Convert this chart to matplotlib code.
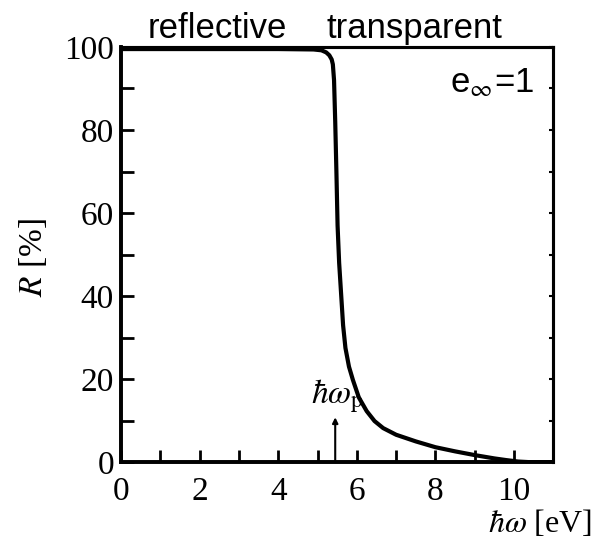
import numpy as np
import matplotlib.pyplot as plt
from matplotlib.ticker import MultipleLocator

plt.rcParams['mathtext.fontset'] = 'stix'

# reflectivity curve, photon energy in eV and R in percent
energy = [0.0, 2.0, 4.0, 4.9, 5.1, 5.22, 5.3, 5.36, 5.39, 5.42, 5.45, 5.48,
          5.51, 5.55, 5.6, 5.65, 5.71, 5.8, 5.9, 6.05, 6.25, 6.45, 6.67,
          7.0, 7.5, 8.0, 8.5, 9.0, 9.5, 9.8, 10.1, 10.4, 11.0]
refl = [99.5, 99.5, 99.5, 99.4, 99.2, 98.7, 98.0, 97.0, 95.8, 92.0, 82.0, 70.0,
        57.0, 48.0, 40.5, 33.0, 27.5, 23.0, 19.8, 15.6, 12.3, 9.9, 8.2,
        6.6, 5.0, 3.6, 2.6, 1.7, 0.9, 0.5, 0.15, 0.0, 0.0]

x_ticks = [0, 2, 4, 6, 8, 10]
y_ticks = [0, 20, 40, 60, 80, 100]
plasma_energy = 5.45
plasma_arrow_top = 10.8

fig = plt.figure(figsize=(5.95, 5.45), dpi=100)
ax = fig.add_axes([0.2034, 0.152, 0.7266, 0.7618])

ax.plot(energy, refl, color='black', lw=3.0, solid_capstyle='round',
        solid_joinstyle='round')

ax.set_xlim(0, 11)
ax.set_ylim(0, 100)
ax.set_xticks(x_ticks)
ax.set_yticks(y_ticks)
ax.xaxis.set_minor_locator(MultipleLocator(1))
ax.yaxis.set_minor_locator(MultipleLocator(10))

serif = dict(family='Liberation Serif', size=24)
ax.set_xticklabels([str(v) for v in x_ticks], fontdict=serif)
ax.set_yticklabels([str(v) for v in y_ticks], fontdict=serif)

ax.tick_params(which='both', direction='in', width=2, color='black')
ax.tick_params(axis='x', which='both', length=9, pad=10, top=False)
ax.tick_params(axis='y', which='both', left=True, right=False, length=9, pad=5)

# short nicks on the right spine
ax_r = ax.twinx()
ax_r.set_ylim(ax.get_ylim())
ax_r.yaxis.set_major_locator(MultipleLocator(10))
ax_r.tick_params(axis='y', direction='in', length=3, width=1.5, labelright=False)

for a in (ax, ax_r):
    a.spines['left'].set_linewidth(2.6)
    a.spines['bottom'].set_linewidth(2.6)
    a.spines['right'].set_linewidth(2.2)
    a.spines['top'].set_linewidth(2.2)

# plasma frequency marker
ax.annotate('', xy=(plasma_energy, plasma_arrow_top), xytext=(plasma_energy, 0),
            arrowprops=dict(arrowstyle='-|>', color='black', lw=1.5,
                            mutation_scale=8, shrinkA=0, shrinkB=0))
ax.text(plasma_energy + 0.05, plasma_arrow_top + 0.5, r'$\hbar\omega_{\mathrm{p}}$',
        fontsize=24, ha='center', va='bottom')

sans = ['Liberation Sans', 'DejaVu Sans']
ax.text(0.955, 0.915, r'e$_{\infty}$=1', transform=ax.transAxes, ha='right',
        va='center', fontsize=25, family=sans)

fig.text(0.365, 0.947, 'reflective', ha='center', va='center', fontsize=25,
         family=sans)
fig.text(0.696, 0.947, 'transparent', ha='center', va='center', fontsize=25,
         family=sans)

fig.text(0.056, 0.528, r'$R$ [%]', rotation=90, ha='center', va='center',
         fontsize=24, family='Liberation Serif')
fig.text(0.995, 0.04, r'$\hbar\omega$ [eV]', ha='right', va='center',
         fontsize=23, family='Liberation Serif')

fig.savefig('out.png', dpi=100)
